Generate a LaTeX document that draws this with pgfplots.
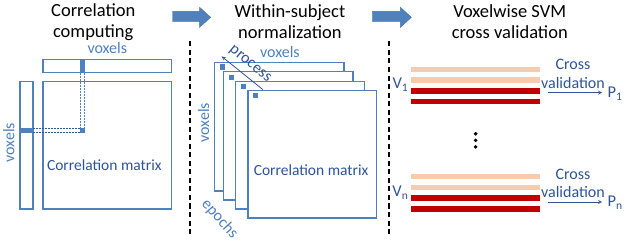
\documentclass[border=0pt]{standalone}
\usepackage{pgfplots}
\pgfplotsset{compat=1.18}
\usepackage{fontspec}
\setmainfont{Carlito}
\definecolor{lblue}{RGB}{79,129,189}
\definecolor{tblue}{RGB}{46,84,150}
\definecolor{peach}{RGB}{248,203,173}
\definecolor{dred}{RGB}{192,0,0}
\begin{document}
\begin{tikzpicture}
\begin{axis}[
  scale only axis, width=626bp, height=242bp,
  xmin=0, xmax=626, ymin=0, ymax=242, y dir=reverse,
  hide axis, clip=false,
]
% ---------- titles
\node[align=center, font=\fontsize{18.5}{21}\selectfont] at (axis cs:97,27.5) {Correlation\\computing};
\node[align=center, font=\fontsize{18.5}{21}\selectfont] at (axis cs:293,27.5) {Within-subject\\normalization};
\node[align=center, font=\fontsize{18.5}{21}\selectfont] at (axis cs:512,27.5) {Voxelwise SVM\\cross validation};
% ---------- block arrows
\addplot[fill=lblue, draw=lblue!90!black, line width=0.4pt] coordinates {(176,17) (203,17) (203,13) (214,23) (203,33) (203,27) (176,27)} --cycle;
\addplot[fill=lblue, draw=lblue!90!black, line width=0.4pt] coordinates {(375,17) (403,17) (403,13) (414,23) (403,33) (403,27) (375,27)} --cycle;
% ---------- separators
\addplot[black, line width=1.8bp, dash pattern=on 5bp off 3.5bp] coordinates {(193,47) (193,242)};
\addplot[black, line width=1.8bp, dash pattern=on 5bp off 3.5bp] coordinates {(392,47) (392,242)};
% ---------- panel 1
\addplot[draw=lblue, line width=1.4bp] coordinates {(47,65) (175,65) (175,78) (47,78)} --cycle;
\addplot[draw=lblue, line width=1.4bp] coordinates {(24,87) (37,87) (37,214) (24,214)} --cycle;
\addplot[draw=lblue, line width=1.4bp] coordinates {(47,87) (175,87) (175,214) (47,214)} --cycle;
\addplot[fill=lblue, draw=none] coordinates {(84,65) (89,65) (89,78) (84,78)} --cycle;
\addplot[fill=lblue, draw=none] coordinates {(24,133) (37,133) (37,138) (24,138)} --cycle;
\addplot[lblue, line width=0.5bp, dash pattern=on 2bp off 1bp] coordinates {(84.5,78) (84.5,133)};
\addplot[lblue, line width=0.5bp, dash pattern=on 2bp off 1bp] coordinates {(88.5,78) (88.5,133)};
\addplot[tblue, line width=0.5bp, dash pattern=on 2bp off 1bp] coordinates {(37,133.5) (84,133.5)};
\addplot[tblue, line width=0.5bp, dash pattern=on 2bp off 1bp] coordinates {(37,137.5) (84,137.5)};
\addplot[fill=lblue, draw=none] coordinates {(84,133) (89,133) (89,138) (84,138)} --cycle;
\node[text=lblue, font=\fontsize{16}{18}\selectfont] at (axis cs:111,54) {voxels};
\node[text=lblue, font=\fontsize{16}{18}\selectfont, rotate=90] at (axis cs:13,148) {voxels};
\node[text=tblue, font=\fontsize{15.5}{18}\selectfont] at (axis cs:108,170) {Correlation matrix};
% ---------- panel 2
\addplot[draw=lblue, fill=white, line width=1.4bp] coordinates {(218,68) (347,68) (347,196) (218,196)} --cycle;
\addplot[fill=lblue, draw=none] coordinates {(223,70) (228,70) (228,75) (223,75)} --cycle;
\addplot[draw=lblue, fill=white, line width=1.4bp] coordinates {(227,77) (356,77) (356,205) (227,205)} --cycle;
\addplot[fill=lblue, draw=none] coordinates {(232,80) (237,80) (237,85) (232,85)} --cycle;
\addplot[draw=lblue, fill=white, line width=1.4bp] coordinates {(239,87) (367,87) (367,214) (239,214)} --cycle;
\addplot[fill=lblue, draw=none] coordinates {(244,89) (249,89) (249,94) (244,94)} --cycle;
\addplot[draw=lblue, fill=white, line width=1.4bp] coordinates {(251,96) (379,96) (379,223) (251,223)} --cycle;
\addplot[fill=lblue, draw=none] coordinates {(256,98) (261,98) (261,103) (256,103)} --cycle;
\addplot[tblue, line width=0.8bp, -stealth] coordinates {(266,95) (225,62)};
\node[text=tblue, font=\fontsize{16}{18}\selectfont, rotate=-39] at (axis cs:253,70) {process};
\node[text=lblue, font=\fontsize{16}{18}\selectfont] at (axis cs:283,58) {voxels};
\node[text=lblue, font=\fontsize{16}{18}\selectfont, rotate=90] at (axis cs:207,128) {voxels};
\node[text=tblue, font=\fontsize{15.5}{18}\selectfont] at (axis cs:314,175) {Correlation matrix};
\node[text=lblue, font=\fontsize{16}{18}\selectfont, rotate=-48] at (axis cs:223,224) {epochs};
% ---------- panel 3
\addplot[fill=peach, draw=none] coordinates {(414,72) (542,72) (542,77.5) (414,77.5)} --cycle;
\addplot[fill=peach, draw=none] coordinates {(414,82.5) (542,82.5) (542,88) (414,88)} --cycle;
\addplot[fill=dred, draw=none] coordinates {(414,93) (542,93) (542,99) (414,99)} --cycle;
\addplot[fill=dred, draw=none] coordinates {(414,104) (542,104) (542,109.5) (414,109.5)} --cycle;
\addplot[fill=peach, draw=none] coordinates {(414,179) (542,179) (542,184.5) (414,184.5)} --cycle;
\addplot[fill=peach, draw=none] coordinates {(414,190) (542,190) (542,195.5) (414,195.5)} --cycle;
\addplot[fill=dred, draw=none] coordinates {(414,200.5) (542,200.5) (542,206) (414,206)} --cycle;
\addplot[fill=dred, draw=none] coordinates {(414,211) (542,211) (542,216.5) (414,216.5)} --cycle;
\addplot[only marks, mark=*, mark size=1.6bp, black] coordinates {(478,139) (478,145.5) (478,152)};
\node[text=tblue, font=\fontsize{16.5}{19}\selectfont] at (axis cs:403,90) {V\textsubscript{1}};
\node[text=tblue, font=\fontsize{16.5}{19}\selectfont] at (axis cs:403,198) {V\textsubscript{n}};
\node[text=tblue, font=\fontsize{16}{19}\selectfont] at (axis cs:575,70) {Cross};
\node[text=tblue, font=\fontsize{16}{19}\selectfont] at (axis cs:575,88.5) {validation};
\node[text=tblue, font=\fontsize{16}{19}\selectfont] at (axis cs:575,179) {Cross};
\node[text=tblue, font=\fontsize{16}{19}\selectfont] at (axis cs:575,197.5) {validation};
\addplot[tblue, line width=0.8bp, -stealth] coordinates {(550,98) (604,98)};
\addplot[tblue, line width=0.8bp, -stealth] coordinates {(550,207) (604,207)};
\node[text=tblue, font=\fontsize{16.5}{19}\selectfont] at (axis cs:617,99) {P\textsubscript{1}};
\node[text=tblue, font=\fontsize{16.5}{19}\selectfont] at (axis cs:617,208) {P\textsubscript{n}};
\end{axis}
\end{tikzpicture}
\end{document}
